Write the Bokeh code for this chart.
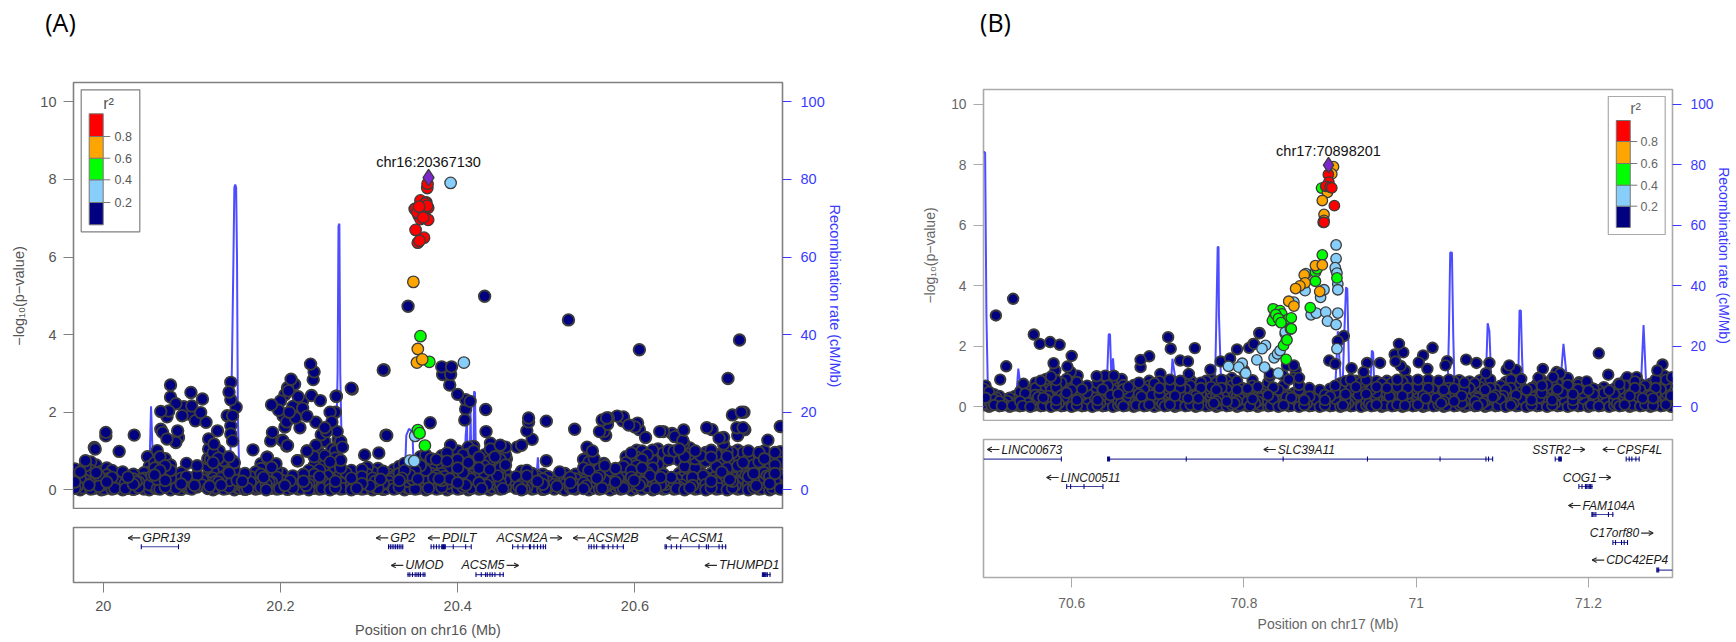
from bokeh.plotting import figure
from bokeh.layouts import row, column
from bokeh.models import Range1d, LinearAxis, FixedTicker
from bokeh.core.properties import value
from bokeh.embed import file_html
from bokeh.resources import INLINE

# ---------- DATA ----------
r2_ticks = ["0.2", "0.4", "0.6", "0.8"]
y_ticks = [0, 2, 4, 6, 8, 10]
rec_ticks = [0, 20, 40, 60, 80, 100]
xticks_a = [20, 20.2, 20.4, 20.6]
xlabels_a = ["20", "20.2", "20.4", "20.6"]
xticks_b = [70.6, 70.8, 71, 71.2]
xlabels_b = ["70.6", "70.8", "71", "71.2"]

rec_a_x = [19.967,20.05,20.0525,20.054,20.056,20.058,20.143,20.145,20.147,20.148,20.149,20.15,20.151,20.152,20.154,
           20.262,20.2645,20.2655,20.2665,20.2675,20.27,20.34,20.342,20.345,20.349,20.351,20.407,20.409,20.4105,20.4115,
           20.413,20.4145,20.416,20.4175,20.4185,20.4195,20.421,20.488,20.4905,20.4925,20.766]
rec_a_y = [.3,.3,8,21.5,8,.3,.3,28,60,78,78.7,78,60,18,.3,
           .3,30,68,68.6,30,.3,.3,14,15.7,15,.3,.3,14,18,.3,
           .3,20,.3,.3,25.4,25,.3,.3,8.4,.3,.3]
rec_b_x = [70.4976,70.4985,70.4995,70.501,70.503,70.535,70.538,70.541,70.544,70.64,70.643,70.6445,70.646,70.648,70.65,70.652,
           70.714,70.717,70.72,70.722,70.766,70.768,70.7695,70.7705,70.771,70.773,70.775,70.905,70.907,70.909,70.912,70.914,
           70.916,70.9185,70.92,70.922,70.925,70.946,70.9485,70.95,70.952,71.036,71.038,71.0395,71.0415,71.043,71.045,
           71.08,71.083,71.085,71.087,71.09,71.118,71.12,71.1215,71.123,71.125,71.162,71.165,71.168,71.171,71.174,71.177,
           71.26,71.264,71.268,71.2976]
rec_b_y = [84.2,84.2,84,30,1,1,12.6,6,1,1,24,24,10,16,8,1,
           1,15.9,10,1,1,30,52.8,52.8,30,12,1,1,12,25,10,1,
           20,39.5,39,12,1,1,18.6,18,1,1,24,51,51,24,1,
           1,27.6,25,10,1,1,31.8,31.8,16,1,1,9,10,20.8,12,1,
           1,27,1,1]

carpet_a = [
(19.968,.04,.2,.36,.54),(19.974,.0,.14,.3,.46),(19.98,.06,.22,.4,.62,.75),(19.986,.02,.16,.34,.5,.72),(19.992,.08,.26,.44,.64),
(19.998,.0,.12,.3,.48),(20.004,.05,.2,.38,.56),(20.01,.02,.16,.32,.5),(20.016,.07,.24,.42),(20.022,.0,.14,.3,.46),
(20.028,.04,.2,.33),(20.034,.01,.14,.28,.4),(20.04,.06,.2,.36),(20.046,.02,.16,.3,.44),(20.052,.0,.13,.28,.46,.6),
(20.058,.05,.2,.38,.56,.7),(20.064,.02,.16,.32,.5,.68,.85),(20.07,.07,.24,.44,.62,.8),(20.076,.0,.14,.3,.5,.64),(20.082,.04,.2,.36),
(20.088,.01,.15,.3,.44),(20.094,.06,.2,.34),(20.1,.02,.16,.3),(20.106,.07,.22,.38),(20.112,.12,.26),
(20.118,.03,.18,.36,.6,.8),(20.124,.0,.14,.3,.48,.7,.95),(20.13,.05,.2,.4,.6,.82),(20.136,.02,.16,.34,.52,.72),(20.142,.07,.24,.44,.64,.85),
(20.148,.0,.14,.3,.5,.7),(20.154,.04,.2,.36),(20.16,.01,.15,.3,.42),(20.166,.05,.2,.34),(20.172,.02,.16,.3,.46),
(20.178,.06,.22,.4,.55),(20.184,.0,.14,.3,.48),(20.19,.04,.2,.38,.58),(20.196,.02,.16,.32,.5),(20.202,.07,.24,.42),
(20.208,.01,.15,.3),(20.214,.05,.2,.36),(20.22,.02,.16,.32),(20.226,.07,.22,.4),(20.232,.0,.14,.3,.44),
(20.238,.04,.2,.4,.62,.85),(20.244,.02,.16,.34,.52,.75,.95),(20.25,.06,.24,.44,.64,.88),(20.256,.0,.14,.32,.5,.72),(20.262,.05,.22,.42,.62,.82,1.0),
(20.268,.02,.18,.36,.56,.76),(20.274,.07,.24,.44),(20.28,.0,.14,.3,.5),(20.286,.04,.2,.38),(20.292,.02,.16,.34,.52),
(20.298,.06,.22,.4,.58),(20.304,.0,.14,.3,.46),(20.31,.04,.2,.38,.55),(20.316,.01,.16,.32,.48),(20.322,.06,.22,.4),
(20.328,.02,.18,.34,.52),(20.334,.07,.24,.42,.6),(20.34,.0,.14,.3,.5,.68),(20.346,.04,.2,.38,.56),(20.352,.02,.16,.34,.5),
(20.358,.06,.22,.42,.62,.85),(20.364,.0,.14,.3,.5,.7,.9),(20.37,.05,.22,.42,.6,.8),(20.376,.02,.18,.36,.56,.78),(20.382,.07,.24,.42,.64,.88),
(20.388,.0,.16,.34,.54,.74,.95),(20.394,.05,.22,.42,.6,.85),(20.4,.02,.18,.36,.56,.78,1.0),(20.406,.07,.24,.44,.66,.9),(20.412,.0,.16,.34,.7,.92,1.1),
(20.418,.05,.22,.4,.78,1.0,1.12),(20.424,.02,.18,.38,.56,.84),(20.43,.07,.24,.44,.62,.9),(20.436,.0,.14,.32,.52,.74,1.0),(20.442,.05,.22,.42,.6,.85,1.05),
(20.448,.02,.18,.36,.56,.78,1.15),(20.454,.07,.24,.42,.64,.9,1.1),(20.46,.1,.26),(20.466,.04,.18,.34),(20.472,.0,.14,.3,.48),
(20.478,.06,.2,.36,.5),(20.484,.02,.16,.3,.42),(20.49,.07,.22,.34),(20.496,.01,.14,.28,.4),(20.502,.06,.2,.34),
(20.509,.02,.14,.3),(20.515,.07,.2,.34,.46),(20.521,.0,.14,.28,.42),(20.527,.05,.18,.32),(20.533,.02,.14,.28,.4),
(20.542,.03,.18,.36,.56,.78),(20.548,.0,.14,.32,.5,.72,.9),(20.554,.05,.22,.4,.6,.8),(20.56,.02,.18,.36,.54),(20.566,.07,.24,.42,.62),
(20.572,.0,.14,.3,.5),(20.578,.05,.2,.38,.55),(20.584,.02,.16,.34,.44),(20.59,.07,.22,.7,.85),(20.596,.0,.14,.32,.5,.72,.95),
(20.602,.05,.22,.42,.62,.84,1.02),(20.608,.02,.18,.36,.56,.78,1.0),(20.614,.07,.24,.44,.64,.9),(20.62,.0,.16,.34,.56,.78,1.02),(20.626,.05,.22,.42,.66,.88,1.05),
(20.632,.02,.18,.4,.72,.95),(20.638,.07,.24,.78,1.02),(20.644,.02,.18,.82,1.0),(20.65,.06,.22,.42,.76,1.05),(20.656,.0,.16,.36,.6,.86),
(20.662,.05,.22,.42,.7,.92,1.08),(20.668,.02,.18,.36,.56,.8,1.0),(20.674,.07,.24,.44,.66,.88),(20.68,.0,.14,.32,.74,.96),(20.686,.05,.22,.42,.84,1.02),
(20.692,.02,.18,.36,.6,.9),(20.698,.07,.24,.46,.66,.94),(20.704,.0,.16,.36,.56,.86,1.0),(20.71,.05,.22,.42,.8,.96),(20.716,.02,.18,.36,.62,.88,1.02),
(20.722,.07,.24,.44,.7,.96),(20.728,.0,.14,.34,.54,.8,1.0),(20.734,.05,.22,.42,.64,.9),(20.74,.02,.18,.36,.72,.96),(20.746,.07,.24,.44,.8,1.0),
(20.752,.0,.16,.34,.56,.88),(20.758,.05,.22,.42,.64,.96),(20.764,.02,.18,.38,.7,.98)]

# extra dots packed between the columns above, where the band is densest
packed_a = [
(19.971,.1,.28),(19.977,.05,.33),(19.984,.12,.27),(19.989,.03,.2),(19.995,.09,.37),(20.001,.02,.25),(20.007,.11,.3),(20.013,.04,.22),(20.019,.1,.35),(20.025,.03,.17),
(20.031,.09,.25),(20.037,.04,.2),(20.043,.11,.27),(20.049,.05,.22),(20.055,.1,.36),(20.061,.03,.27),(20.067,.12,.4),(20.073,.05,.18),(20.079,.09,.27),(20.085,.02,.12),
(20.091,.1,.24),(20.097,.04,.14),(20.103,.11,.26),(20.12,.09,.28),(20.127,.05,.22),(20.133,.12,.3),(20.139,.03,.25),(20.145,.1,.38),(20.151,.05,.24),(20.157,.09,.22),
(20.163,.03,.12),(20.169,.1,.25),(20.175,.04,.22),(20.181,.11,.32),(20.187,.05,.2),(20.193,.1,.27),(20.199,.03,.14),(20.205,.11,.2),(20.211,.04,.23),(20.217,.1,.27),
(20.223,.03,.14),(20.229,.11,.24),(20.235,.05,.2),(20.241,.1,.3),(20.247,.03,.24),(20.253,.12,.36),(20.259,.04,.28),(20.265,.1,.33),(20.271,.03,.14),(20.277,.09,.3),
(20.283,.04,.24),(20.289,.11,.27),(20.295,.03,.14),(20.301,.1,.3),(20.307,.05,.22),(20.313,.11,.27),(20.319,.03,.14),(20.325,.1,.28),(20.331,.04,.14),(20.337,.11,.3),
(20.343,.05,.22),(20.349,.1,.27),(20.355,.03,.28),(20.361,.12,.36),(20.367,.04,.25),(20.373,.1,.3),(20.379,.03,.28),(20.385,.12,.34),(20.391,.05,.28),(20.397,.11,.36),
(20.403,.03,.27),(20.409,.12,.3),(20.415,.04,.28),(20.421,.11,.3),(20.427,.03,.3),(20.433,.12,.34),(20.439,.05,.28),(20.445,.1,.36),(20.451,.03,.3),(20.469,.08,.24),
(20.475,.03,.22),(20.481,.1,.27),(20.487,.04,.24),(20.493,.1,.27),(20.499,.03,.12),(20.512,.09,.24),(20.518,.03,.12),(20.524,.1,.2),(20.53,.04,.12),(20.545,.1,.28),
(20.551,.03,.24),(20.557,.12,.3),(20.563,.04,.16),(20.569,.11,.34),(20.575,.03,.24),(20.581,.1,.3),(20.587,.04,.12),(20.593,.11,.28),(20.599,.03,.24),(20.605,.12,.34),
(20.611,.05,.28),(20.617,.11,.36),(20.623,.03,.28),(20.629,.12,.32),(20.635,.04,.14),(20.641,.1,.32),(20.647,.03,.28),(20.653,.12,.34),(20.659,.05,.28),(20.665,.11,.32),
(20.671,.03,.28),(20.677,.12,.36),(20.683,.04,.24),(20.689,.1,.3),(20.695,.03,.28),(20.701,.12,.36),(20.707,.05,.26),(20.713,.11,.3),(20.719,.03,.28),(20.725,.12,.36),
(20.731,.04,.28),(20.737,.1,.3),(20.743,.03,.28),(20.749,.12,.36),(20.755,.05,.28),(20.761,.11,.3)]

upper_a_x = [19.99,19.991,20.003,20.003,20.018,20.035,20.05,20.061,20.076,20.076,20.082,20.099,20.112,20.065,20.074,20.072,20.091,20.1,20.089,20.11,20.104,20.116,20.097,20.084,20.065,20.067,20.072,20.085,20.082,
 20.129,20.119,20.125,20.119,20.131,20.121,20.129,20.136,20.146,20.094,20.106,20.144,20.142,20.144,20.15,20.14,20.146,20.144,20.144,20.146,20.169,20.185,20.195,20.178,
 20.19,20.2,20.208,20.212,20.216,20.209,20.205,20.22,20.225,20.214,20.198,20.203,20.207,20.191,20.189,20.202,20.208,20.22,20.23,20.232,20.234,20.238,20.237,20.235,20.263,20.281,20.317,20.245,20.262,20.256,20.225,20.23,20.21,20.217,20.222,20.205,20.24,20.25,20.258,
 20.203,20.207,20.319,20.264,20.268,20.219,20.23,20.311,20.295,20.185,20.24,20.25,20.258,20.265,20.27,20.246,20.252,
 20.344,20.4304,20.525,20.605,20.718,20.705,20.316,20.28,20.263,20.382,20.383,20.388,20.393,20.392,20.391,20.4,20.409,20.414,20.409,20.4316,20.408,20.369,20.32,20.5,20.563,20.568,20.587,20.569,20.565,20.599,20.603,20.605,20.632,20.645,20.654,20.681,20.687,20.695,20.7,20.7,20.716,20.724,20.71,20.72,20.723,
 20.764,20.75,20.715,20.722,20.655,20.642,20.628,20.655,20.612,20.6,20.593,20.587,20.586,20.58,20.57,20.567,20.56,20.455,20.532,20.472,20.467,20.48,20.48,20.478,20.484,20.5,20.587,20.546,20.552,20.552,20.565,20.392,20.432,20.437,20.437]
upper_a_y = [1.09,1.05,1.48,1.39,.99,1.41,.85,1.01,2.7,2.39,2.22,2.51,2.34,2.02,2.03,1.88,2.14,2.16,1.91,1.99,1.78,1.74,1.95,1.52,1.56,1.48,1.31,1.35,1.22,
 1.52,1.31,1.18,1.05,1.0,.79,.79,.75,.75,.68,.62,2.77,2.52,2.32,2.13,1.91,1.91,1.65,1.44,1.26,1.03,.84,.67,.67,
 2.19,2.29,2.63,2.85,2.72,2.55,2.45,2.4,2.29,2.15,2.05,1.9,1.75,1.48,1.26,1.28,1.14,.75,1.0,.5,3.24,3.04,2.84,2.43,2.41,2.6,3.09,2.3,2.0,2.0,2.1,1.9,2.0,1.85,1.6,1.62,1.74,1.6,1.75,
 1.26,1.13,1.41,1.5,1.25,.75,1.0,.95,.9,.84,1.15,1.25,1.05,1.3,1.1,1.42,1.5,
 4.73,4.99,4.38,3.61,3.86,2.87,3.09,2.62,2.41,3.17,2.97,2.97,3.17,2.97,2.7,2.46,2.32,2.28,2.08,2.07,1.8,1.73,1.4,1.77,1.8,1.85,1.88,1.69,1.5,1.65,1.72,1.55,1.5,1.37,1.27,1.6,1.55,1.33,1.18,1.35,1.4,1.55,1.93,2.0,2.0,
 1.63,1.28,1.6,1.6,1.54,1.45,1.5,1.2,1.35,1.62,1.67,1.85,1.78,1.9,1.85,1.4,1.5,.8,1.56,1.15,1.1,1.75,1.85,1.52,1.3,.75,.6,1.1,1.0,.78,.68,1.15,1.5,1.2,1.05]

blue_a_x = [20.392,20.407,20.352,20.346,20.351]
blue_a_y = [7.91,3.28,1.39,.75,.74]
green_a_x = [20.358,20.368,20.3551,20.357,20.363]
green_a_y = [3.96,3.3,1.54,1.46,1.14]
orange_a_x = [20.35,20.355,20.354,20.36,20.3515]
orange_a_y = [5.36,3.63,3.28,3.36,7.24]
red_a_x = [20.3657,20.366,20.358,20.3645,20.3667,20.3525,20.358,20.362,20.3602,20.356,20.358,20.3667,20.3525,20.362,20.355,20.357,20.3635,20.3655,20.3545,20.3565,20.361]
red_a_y = [7.78,7.89,7.46,7.41,7.27,7.24,7.2,7.24,7.11,7.07,6.98,6.96,6.7,6.5,6.37,6.42,7.38,7.32,7.15,7.3,7.02]
lead_a_x, lead_a_y = [20.36713], [8.05]

carpet_b = [
(70.498,.05,.22,.42,.6),(70.504,.0,.16,.34,.5),(70.51,.06,.24,.42),(70.516,.02,.18,.36),(70.522,.07,.25),
(70.528,.0,.16,.3),(70.534,.05,.22,.36),(70.54,.02,.18,.34,.5),(70.546,.07,.24,.44,.62),(70.552,.0,.16,.34,.55),
(70.558,.05,.22,.4,.62,.8),(70.564,.02,.18,.38,.58,.86),(70.57,.07,.26,.46,.7,.92),(70.576,.0,.18,.36,.56,.82,1.0),(70.582,.05,.22,.42,.64,.88),
(70.588,.02,.18,.38,.6,.8),(70.594,.07,.26,.46,.66,.92),(70.6,.0,.18,.36,.56,.78),(70.606,.05,.22,.42,.62,.82),(70.612,.02,.18,.38,.58),
(70.618,.07,.26,.46,.7),(70.624,.0,.18,.36,.56),(70.63,.05,.22,.42,.62,.78),(70.636,.02,.18,.38,.58),(70.642,.07,.26,.46,.7),
(70.648,.0,.18,.36,.56,.78),(70.654,.05,.22,.42,.62),(70.66,.02,.18,.38,.58,.72),(70.666,.07,.26,.46,.66),(70.672,.0,.18,.36,.56,.72),
(70.678,.05,.22,.42,.62,.8),(70.684,.02,.18,.38,.58),(70.69,.07,.26,.46,.7,.86),(70.696,.0,.18,.36,.56,.78),(70.702,.05,.22,.42,.62,.84),
(70.708,.02,.18,.38,.58,.8),(70.714,.07,.26,.46,.66,.9),(70.72,.0,.18,.36,.56,.82),(70.726,.05,.22,.42,.62,.86),(70.732,.02,.18,.38,.58,.8),
(70.738,.07,.26,.46,.7,.88),(70.744,.0,.18,.36,.56,.76),(70.75,.05,.22,.42,.62,.8),(70.756,.02,.18,.38,.58,.86),(70.762,.07,.26,.46,.66,.92),
(70.768,.0,.18,.36,.56,.82),(70.774,.05,.22,.42,.62,.9),(70.78,.02,.18,.38,.58,.86),(70.786,.07,.26,.46,.7,.95),(70.792,.0,.18,.36,.56,.85),
(70.798,.05,.22,.42,.62),(70.804,.02,.18,.38,.6),(70.81,.07,.26,.46,.7,.88),(70.816,.0,.18,.36,.66),(70.822,.05,.22,.42,.6),
(70.828,.02,.18,.38,.8),(70.834,.07,.26,.46,.64),(70.84,.0,.18,.36,.56),(70.846,.05,.22,.42,.7),(70.852,.02,.18,.38,.9),
(70.858,.07,.26,.46,.96),(70.864,.0,.18,.36,.56,.72),(70.87,.05,.22,.42),(70.876,.02,.18,.34,.62),(70.882,.07,.26,.42),
(70.888,.0,.18,.36,.56),(70.894,.05,.22,.4),(70.9,.02,.18,.34,.6),(70.906,.07,.26,.46,.7),(70.912,.0,.18,.36,.56,.78),
(70.918,.05,.22,.42,.62,.85),(70.924,.02,.18,.38,.58,.9),(70.93,.07,.26,.46,.66,.86),(70.936,.0,.18,.36,.56,.8),(70.942,.05,.22,.42,.62,.88),
(70.948,.02,.18,.38,.58,.8),(70.954,.07,.26,.46,.66,.85),(70.96,.0,.18,.36,.56,.78),(70.966,.05,.22,.42,.62,.86),(70.972,.02,.18,.38,.58,.8),
(70.978,.07,.26,.46,.66,.9),(70.984,.0,.18,.36,.56,.82),(70.99,.05,.22,.42,.62,.88),(70.996,.02,.18,.38,.58,.8),(71.002,.07,.26,.46,.66,.9),
(71.008,.0,.18,.36,.56,.82),(71.014,.05,.22,.42,.62,.9),(71.02,.02,.18,.38,.58,.8),(71.026,.07,.26,.46,.7,.86),(71.032,.0,.18,.36,.56,.8),
(71.038,.05,.22,.42,.62,.9),(71.044,.02,.18,.38,.6,.82),(71.05,.07,.26,.46,.7,.88),(71.056,.0,.18,.36,.56,.8),(71.062,.05,.22,.42,.62,.84),
(71.068,.02,.18,.38,.58,.78),(71.074,.07,.26,.46,.66,.88),(71.08,.0,.18,.36,.56,.82),(71.086,.05,.22,.42,.62,.9),(71.092,.02,.18,.38,.58),
(71.098,.07,.26,.46,.7),(71.104,.0,.18,.36,.56,.82),(71.11,.05,.22,.42,.62,.9),(71.116,.02,.18,.38,.58,.78),(71.122,.07,.26,.46,.66),
(71.128,.0,.18,.36,.56),(71.134,.05,.22,.42,.62),(71.14,.02,.18,.38,.58,.74),(71.146,.07,.26,.46,.7,.88),(71.152,.0,.18,.36,.56,.72),
(71.158,.05,.22,.42,.62,.82),(71.164,.02,.18,.38,.58,.78),(71.17,.07,.26,.46,.66),(71.176,.0,.18,.36,.56,.72),(71.182,.05,.22,.42,.6),
(71.188,.02,.18,.38,.58,.74),(71.194,.07,.26,.46,.62),(71.2,.0,.18,.36,.54,.7),(71.206,.05,.22,.42,.6),(71.212,.02,.18,.38,.55),
(71.218,.07,.26,.46),(71.224,.0,.18,.36,.54),(71.23,.05,.22,.42,.6),(71.236,.02,.18,.38,.58,.75),(71.242,.07,.26,.46,.7,.86),
(71.248,.0,.18,.36,.56,.8),(71.254,.05,.22,.42,.62,.84),(71.26,.02,.18,.38,.58,.76),(71.266,.07,.26,.46,.7),(71.272,.0,.18,.36,.56,.76),
(71.278,.05,.22,.42,.62,.88),(71.284,.02,.18,.38,.58,.8),(71.29,.07,.26,.46,.7,.9),(71.296,.0,.18,.36,.56,.8)]

packed_b = [
(70.5,.11,.3),(70.507,.04,.2),(70.513,.1,.3),(70.519,.03,.14),(70.525,.11,.2),(70.531,.04,.12),(70.537,.1,.28),(70.543,.03,.14),(70.549,.12,.3),(70.555,.04,.24),
(70.561,.1,.32),(70.567,.03,.3),(70.573,.12,.36),(70.579,.05,.28),(70.585,.11,.34),(70.591,.03,.3),(70.597,.12,.38),(70.603,.04,.28),(70.609,.1,.32),(70.615,.03,.28),
(70.621,.12,.36),(70.627,.05,.3),(70.633,.11,.34),(70.639,.03,.28),(70.645,.12,.38),(70.651,.04,.28),(70.657,.1,.32),(70.663,.03,.3),(70.669,.12,.36),(70.675,.05,.28),
(70.681,.11,.34),(70.687,.03,.3),(70.693,.12,.38),(70.699,.04,.28),(70.705,.1,.32),(70.711,.03,.28),(70.717,.12,.36),(70.723,.05,.3),(70.729,.11,.34),(70.735,.03,.28),
(70.741,.12,.38),(70.747,.04,.28),(70.753,.1,.32),(70.759,.03,.3),(70.765,.12,.36),(70.771,.05,.28),(70.777,.11,.34),(70.783,.03,.3),(70.789,.12,.38),(70.795,.04,.28),
(70.801,.1,.32),(70.807,.03,.28),(70.813,.12,.3),(70.819,.05,.28),(70.825,.11,.34),(70.831,.03,.14),(70.837,.12,.3),(70.843,.04,.14),(70.849,.1,.32),(70.855,.03,.3),
(70.861,.12,.3),(70.867,.05,.14),(70.873,.11,.3),(70.879,.03,.14),(70.885,.12,.3),(70.891,.04,.14),(70.897,.1,.3),(70.903,.03,.14),(70.909,.12,.36),(70.915,.05,.28),
(70.921,.11,.34),(70.927,.03,.3),(70.933,.12,.38),(70.939,.04,.28),(70.945,.1,.32),(70.951,.03,.3),(70.957,.12,.36),(70.963,.05,.28),(70.969,.11,.34),(70.975,.03,.28),
(70.981,.12,.38),(70.987,.04,.28),(70.993,.1,.32),(70.999,.03,.3),(71.005,.12,.36),(71.011,.05,.28),(71.017,.11,.34),(71.023,.03,.28),(71.029,.12,.38),(71.035,.04,.28),
(71.041,.1,.32),(71.047,.03,.3),(71.053,.12,.36),(71.059,.05,.28),(71.065,.11,.34),(71.071,.03,.28),(71.077,.12,.38),(71.083,.04,.28),(71.089,.1,.32),(71.095,.03,.3),
(71.101,.12,.36),(71.107,.05,.28),(71.113,.11,.34),(71.119,.03,.28),(71.125,.12,.38),(71.131,.04,.28),(71.137,.1,.32),(71.143,.03,.3),(71.149,.12,.36),(71.155,.05,.28),
(71.161,.11,.34),(71.167,.03,.28),(71.173,.12,.36),(71.179,.04,.28),(71.185,.1,.32),(71.191,.03,.28),(71.197,.12,.3),(71.203,.05,.28),(71.209,.11,.3),(71.215,.03,.28),
(71.221,.12,.3),(71.227,.04,.28),(71.233,.1,.32),(71.239,.03,.3),(71.245,.12,.36),(71.251,.05,.28),(71.257,.11,.34),(71.263,.03,.28),(71.269,.12,.38),(71.275,.04,.28),
(71.281,.1,.32),(71.287,.03,.3),(71.293,.12,.36)]

upper_b_x = [70.532,70.512,70.556,70.563,70.575,70.586,70.6,70.524,70.517,70.579,70.581,70.595,70.599,70.607,70.629,70.639,70.649,70.658,70.68,70.69,70.68,70.703,70.712,70.715,70.726,70.735,70.743,70.736,70.761,70.773,70.792,70.784,70.806,70.811,70.818,70.544,70.5,
 70.818,70.8116,70.916,70.909,70.899,70.906,70.98,70.975,70.985,71.019,71.008,70.943,70.958,70.925,70.939,70.976,70.982,70.987,71.003,71.013,71.036,71.034,71.058,71.07,71.085,71.081,71.108,71.105,71.116,71.122,71.147,71.142,71.163,71.167,71.159,70.864,70.858,70.85,70.83,
 71.212,71.223,71.176,71.189,71.198,71.218,71.245,71.256,71.286,71.28,71.288,71.278,71.297,71.245,71.235,70.8,70.83,70.845,70.86]
upper_b_y = [3.57,3.02,2.39,2.08,2.14,2.05,1.68,1.34,.9,1.44,1.2,1.33,1.15,1.03,1.01,1.03,1.03,.92,1.55,1.67,1.31,1.09,2.3,1.92,1.53,1.5,1.94,1.09,1.23,1.5,1.9,1.6,1.95,2.08,2.43,.76,.7,
 2.44,2.08,2.34,2.17,1.53,1.42,2.08,1.73,1.8,1.95,1.7,1.45,1.45,1.28,1.15,1.5,1.35,1.2,1.47,1.25,1.51,1.37,1.56,1.45,1.45,1.11,1.37,1.23,1.22,.92,1.25,.96,1.15,1.1,.98,.96,1.37,1.37,1.0,
 1.77,1.06,.95,.81,.84,.65,.98,.98,1.4,1.2,1.03,.9,.98,.7,.76,1.2,1.1,1.05,1.2]

blue_b_x = [70.782,70.798,70.794,70.802,70.815,70.824,70.825,70.821,70.835,70.839,70.842,70.848,70.84,70.907,70.907,70.907,70.909,70.909,70.872,70.871,70.889,70.893,70.858,70.878,70.884,70.895,70.897,70.907,70.909,70.848,70.908,70.906,70.908]
blue_b_y = [1.34,1.44,1.31,1.11,1.55,1.31,2.03,1.92,1.62,1.75,1.86,2.41,1.11,5.35,4.9,4.5,4.06,3.87,4.4,3.84,3.62,3.87,3.46,3.04,3.1,3.13,2.83,2.72,3.1,2.47,1.92,4.6,4.42]
green_b_x = [70.834,70.842,70.844,70.835,70.833,70.846,70.852,70.849,70.846,70.849,70.854,70.8901,70.891,70.883,70.885,70.883,70.908,70.877,70.855,70.855,70.85,70.837,70.84,70.843]
green_b_y = [3.24,3.18,3.07,2.96,2.85,2.85,2.91,2.19,2.03,1.57,2.57,7.23,5.02,4.45,4.56,4.15,4.26,3.28,2.94,2.58,2.21,3.05,2.92,2.78]
orange_b_x = [70.904,70.902,70.897,70.891,70.893,70.893,70.87,70.883,70.891,70.871,70.865,70.86,70.888,70.852,70.858]
orange_b_y = [7.94,7.7,7.09,6.82,6.36,6.16,4.36,4.67,4.69,4.1,4.0,3.91,3.81,3.49,3.33]
red_b_x = [70.898,70.8986,70.895,70.9,70.902,70.905,70.892,70.893]
red_b_y = [7.68,7.43,7.29,7.26,7.24,6.65,6.1,6.1]
lead_b_x, lead_b_y = [70.8982], [7.99]

# name, arrow direction, start, end, row, x of the name's side next to the arrow, exon positions
genes_a = [
("GPR139",-1,20.043,20.085,0,20.0441,[20.043,20.085]),
("GP2",-1,20.3217,20.3386,0,20.3239,[20.322,20.324,20.326,20.328,20.33,20.332,20.334,20.336,20.338]),
("PDILT",-1,20.3694,20.4153,0,20.3823,[20.37,20.373,20.376,20.379,20.382,20.383,20.384,20.385,20.386,20.395,20.409,20.4153]),
("ACSM2A",1,20.4623,20.4992,0,20.5018,[20.462,20.468,20.4736,20.481,20.482,20.486,20.49,20.4936,20.4966,20.4992]),
("ACSM2B",-1,20.5474,20.5875,0,20.5462,[20.548,20.5507,20.5538,20.5568,20.5631,20.565,20.5699,20.5752,20.5801,20.5869]),
("ACSM1",-1,20.6339,20.7032,0,20.6516,[20.634,20.6354,20.641,20.647,20.6516,20.6723,20.6806,20.6828,20.6949,20.6986,20.7024]),
("UMOD",-1,20.343,20.3637,1,20.3409,[20.344,20.346,20.349,20.352,20.354,20.356,20.358,20.361,20.363]),
("ACSM5",1,20.4206,20.4522,1,20.4529,[20.4206,20.4266,20.4315,20.4334,20.4364,20.439,20.442,20.4477,20.4514]),
("THUMPD1",-1,20.7438,20.7532,1,20.6948,[20.7438,20.745,20.746,20.747,20.748,20.7494,20.7524])]
genes_b = [
("LINC00673",-1,70.4976,70.588,0,70.5184,[70.588]),
("SLC39A11",-1,70.6417,71.0888,0,70.8393,[70.6417,70.6428,70.644,70.733,70.8455,70.9434,71.0277,71.081,71.084,71.0888]),
("SSTR2",1,71.1614,71.1692,0,71.1796,[71.1614,71.1655,71.1665,71.1675,71.1685]),
("CPSF4L",-1,71.2438,71.2589,0,71.233,[71.2438,71.2473,71.2504,71.2551,71.2589]),
("LINC00511",-1,70.5942,70.6363,1,70.5872,[70.5942,70.5988,70.6143,70.6363]),
("COG1",1,71.1889,71.2051,1,71.2098,[71.1889,71.1925,71.1965,71.198,71.1995,71.201,71.2025,71.204]),
("FAM104A",-1,71.204,71.2291,2,71.1932,[71.204,71.205,71.2065,71.2086,71.2232,71.2283]),
("C17orf80",1,71.2284,71.2454,3,71.2589,[71.2284,71.2315,71.2384,71.2415,71.2454]),
("CDC42EP4",-1,71.2794,71.2976,4,71.2206,[71.2794,71.2805,71.2816])]

# ---------- STYLE ----------
FONT = "Liberation Sans"
NAVY, SKY, GREEN, ORANGE, RED, PURPLE = "#000080", "#87CEFA", "#00FF00", "#FFA500", "#FF0000", "#7D26CD"
REC = "#3A3AFF"
R2_COLORS = [NAVY, SKY, GREEN, ORANGE, RED]
HEADER = 40


def flatten(cols):
    xs, ys = [], []
    for c in cols:
        for v in c[1:]:
            xs.append(c[0]); ys.append(v)
    return xs, ys


def mix_draw_order(xs, ys):
    """Only the painting order changes: overlapping dots should not stack in neat columns."""
    pairs = sorted(zip(xs, ys), key=lambda t: (t[0] * 913 + t[1] * 271) % 1)
    return [t[0] for t in pairs], [t[1] for t in pairs]


def header(width, text, cx, cy):
    p = figure(width=width, height=HEADER, x_range=Range1d(0, width), y_range=Range1d(HEADER, 0),
               output_backend="svg", toolbar_location=None, x_axis_location=None, y_axis_location=None, tools="",
               min_border_left=0, min_border_right=0, min_border_top=0, min_border_bottom=0, outline_line_color=None)
    p.grid.visible = False
    p.text([cx], [cy], text=[text], text_font=value("Open Sans"), text_font_size="25px", text_color="#000000",
           text_align="center", text_baseline="middle")
    return p


def main_panel(left, right, top, frame_w, frame_h, xr, yr, axis_col, line_col, dots, size, rec,
               tick_size, title_size, rec_standoff, leg, lead_label):
    h = top + frame_h
    p = figure(width=left + frame_w + right, height=h, x_range=Range1d(*xr), y_range=Range1d(*yr),
               output_backend="svg", toolbar_location=None, x_axis_location=None, tools="",
               min_border_left=left, min_border_right=right, min_border_top=top, min_border_bottom=0)
    p.grid.visible = False
    p.outline_line_color = line_col
    p.outline_line_width = 1.6
    ax = p.yaxis[0]
    ax.ticker = FixedTicker(ticks=y_ticks)
    ax.axis_label = "−log₁₀(p−value)"
    ax.axis_label_text_font = FONT
    ax.axis_label_text_font_style = "normal"
    ax.axis_label_text_font_size = title_size
    ax.axis_label_text_color = axis_col
    ax.axis_label_standoff = 10
    ax.major_label_text_font = FONT
    ax.major_label_text_font_size = tick_size
    ax.major_label_text_color = axis_col
    ax.major_label_standoff = 7
    ax.major_tick_in = 0
    ax.major_tick_out = 10
    ax.major_tick_line_color = line_col
    ax.minor_tick_line_color = None
    ax.axis_line_color = None
    ax.major_label_orientation = "horizontal"

    p.extra_y_ranges = {"rec": Range1d(yr[0] * 10, yr[1] * 10)}
    rax = LinearAxis(y_range_name="rec", ticker=FixedTicker(ticks=rec_ticks), axis_label="Recombination rate (cM/Mb)")
    rax.axis_label_text_font = FONT
    rax.axis_label_text_font_style = "normal"
    rax.axis_label_text_font_size = title_size
    rax.axis_label_text_color = REC
    rax.axis_label_standoff = rec_standoff
    rax.major_label_text_font = FONT
    rax.major_label_text_font_size = tick_size
    rax.major_label_text_color = REC
    rax.major_label_standoff = 9
    rax.major_tick_in = 0
    rax.major_tick_out = 9
    rax.major_tick_line_color = REC
    rax.minor_tick_line_color = None
    rax.axis_line_color = None
    rax.major_label_orientation = "horizontal"
    p.add_layout(rax, "right")

    p.line(rec[0], rec[1], y_range_name="rec", line_color=REC, line_width=2, line_alpha=0.9)

    for (dx, dy, col, marker) in dots:
        p.scatter(dx, dy, marker=marker, size=size + (5 if marker == "diamond" else 0), fill_color=col,
                  line_color="#3c3c3c", line_width=1.9 if col == NAVY else 1.3)

    p.text([lead_label[1]], [lead_label[2]], text=[lead_label[0]], text_font=value(FONT), text_font_size="14.5px",
           text_color="#111111", text_align="center", text_baseline="middle")

    # legend, placed through the panel's own scales (its measures are page pixels from the window's top)
    px_per_x = frame_w / (xr[1] - xr[0])
    px_per_y = frame_h / (yr[1] - yr[0])
    fx = lambda px: xr[0] + (px - left) / px_per_x
    fy = lambda py: yr[1] - (py - top - HEADER) / px_per_y
    bx0, bx1, by0, by1, cx0, cx1, edges, lx, rx, ry = leg
    p.quad(left=[fx(bx0)], right=[fx(bx1)], top=[fy(by0)], bottom=[fy(by1)], fill_color="white",
           line_color=line_col, line_width=1.2)
    p.quad(left=[fx(cx0)] * 5, right=[fx(cx1)] * 5, top=[fy(e) for e in edges[1:]], bottom=[fy(e) for e in edges[:-1]],
           fill_color=R2_COLORS, line_color="#777777", line_width=1)
    tick_y = [fy(e) for e in edges[1:-1]]
    p.segment([fx(cx1)] * 4, tick_y, [fx(cx1 + 7)] * 4, tick_y, line_color="#777777", line_width=1)
    p.text([fx(lx)] * 4, tick_y, text=r2_ticks, text_font=value(FONT), text_font_size="12.5px", text_color=axis_col,
           text_align="left", text_baseline="middle")
    p.text([fx(rx)], [fy(ry)], text=["r²"], text_font=value(FONT), text_font_size="16px", text_color=axis_col,
           text_align="center", text_baseline="middle")
    return p


def gene_panel(left, right, top, bottom, frame_w, frame_h, xr, ticks, labels, xtitle, axis_col, line_col, genes, rows,
               label_size, tick_size, title_size, label_standoff, title_standoff):
    p = figure(width=left + frame_w + right, height=top + frame_h + bottom, x_range=Range1d(*xr),
               y_range=Range1d(frame_h, 0), output_backend="svg", toolbar_location=None, y_axis_location=None, tools="",
               min_border_left=left, min_border_right=right, min_border_top=top, min_border_bottom=bottom)
    p.grid.visible = False
    p.outline_line_color = line_col
    p.outline_line_width = 1.6
    ax = p.xaxis[0]
    ax.ticker = FixedTicker(ticks=ticks)
    ax.major_label_overrides = dict(zip(ticks, labels))
    ax.axis_label = xtitle
    ax.axis_label_text_font = FONT
    ax.axis_label_text_font_style = "normal"
    ax.axis_label_text_font_size = title_size
    ax.axis_label_text_color = axis_col
    ax.axis_label_standoff = title_standoff
    ax.major_label_text_font = FONT
    ax.major_label_text_font_size = tick_size
    ax.major_label_text_color = axis_col
    ax.major_label_standoff = label_standoff
    ax.major_tick_in = 0
    ax.major_tick_out = 10
    ax.major_tick_line_color = line_col
    ax.minor_tick_line_color = None
    ax.axis_line_color = None

    dx = (xr[1] - xr[0]) / frame_w  # data units per pixel, for the arrows beside each name
    for name, direction, start, end, r, anchor, exons in genes:
        ty, ly = rows[r]
        p.segment([start], [ly], [end], [ly], line_color=NAVY, line_width=1.1, line_alpha=0.75)
        p.quad(left=[e - 0.0006 for e in exons], right=[e + 0.0006 for e in exons], top=[ly - 2.5] * len(exons),
               bottom=[ly + 2.5] * len(exons), fill_color=NAVY, line_color=None)
        p.text([anchor], [ty], text=[name], text_font=value(FONT), text_font_style="italic",
               text_font_size=label_size, text_color="#1a1a1a", text_baseline="middle",
               text_align="left" if direction < 0 else "right")
        a0 = anchor + direction * 2 * dx
        tip = anchor + direction * 14 * dx
        back = tip - direction * 4.5 * dx
        p.segment([a0, tip, tip], [ty, ty, ty], [tip, back, back], [ty, ty - 2.4, ty + 2.4],
                  line_color="#2a2a2a", line_width=1.1)
    return p


# ---------- FIGURES ----------
ca_x, ca_y = flatten(carpet_a)
cb_x, cb_y = flatten(carpet_b)
pa_x, pa_y = flatten(packed_a)
pb_x, pb_y = flatten(packed_b)
navy_a_x, navy_a_y = mix_draw_order(pa_x + ca_x + upper_a_x, pa_y + ca_y + upper_a_y)
navy_b_x, navy_b_y = mix_draw_order(pb_x + cb_x + upper_b_x, pb_y + cb_y + upper_b_y)
dots_a = [(navy_a_x, navy_a_y, NAVY, "circle"), (blue_a_x, blue_a_y, SKY, "circle"),
          (green_a_x, green_a_y, GREEN, "circle"), (orange_a_x, orange_a_y, ORANGE, "circle"),
          (red_a_x, red_a_y, RED, "circle"), (lead_a_x, lead_a_y, PURPLE, "diamond")]
dots_b = [(navy_b_x, navy_b_y, NAVY, "circle"), (blue_b_x, blue_b_y, SKY, "circle"),
          (green_b_x, green_b_y, GREEN, "circle"), (orange_b_x, orange_b_y, ORANGE, "circle"),
          (red_b_x, red_b_y, RED, "circle"), (lead_b_x, lead_b_y, PURPLE, "diamond")]

head_a = header(908, "(A)", 60, 21)
main_a = main_panel(73, 126, 82 - HEADER, 709, 427, (19.9665, 20.7665), (-0.508, 10.5), "#555555", "#808080", dots_a, 11.5,
                    (rec_a_x, rec_a_y), "14.5px", "14.5px", -1,
                    (80.7, 139.3, 89.3, 231.3, 88.7, 102.7, [224.3, 202, 179.3, 157.7, 136, 113.3], 114, 108, 103),
                    ("chr16:20367130", 20.3671, 8.46))
gene_a = gene_panel(73, 126, 18, 57, 709, 56, (19.9665, 20.7665), xticks_a, xlabels_a, "Position on chr16 (Mb)",
                    "#555555", "#808080", genes_a, [(10.6, 19.6), (38.6, 48)], "12.5px", "14.5px", "14.5px", 8, 8)

head_b = header(826, "(B)", 87, 21)
main_b = main_panel(75, 61, 89 - HEADER, 690, 332, (70.4976, 71.2976), (-0.486, 10.49), "#666666", "#aaaaaa", dots_b, 10.5,
                    (rec_b_x, rec_b_y), "13.8px", "14px", -1,
                    (1608.7 - 908, 1665.7 - 908, 96, 234, 1616.7 - 908, 1630.7 - 908, [227, 205.7, 184.7, 163, 141, 120], 1641 - 908, 1636 - 908, 108),
                    ("chr17:70898201", 70.8982, 8.47))
gene_b = gene_panel(75, 61, 18, 63, 690, 138, (70.4976, 71.2976), xticks_b, xlabels_b, "Position on chr17 (Mb)",
                    "#666666", "#aaaaaa", genes_b, [(10, 19.6), (38, 47), (66, 75), (93.6, 103), (120.6, 130.6)],
                    "12px", "13.8px", "14px", 10, 5)

# the headers sit in their own rows, so that their plot areas are not lined up with the panels below
col_a = column(row(head_a, spacing=0), column(main_a, gene_a, spacing=0), spacing=0)
col_b = column(row(head_b, spacing=0), column(main_b, gene_b, spacing=0), spacing=0)
layout = row(col_a, col_b, spacing=0)
open("out.html", "w").write(file_html(layout, INLINE))
